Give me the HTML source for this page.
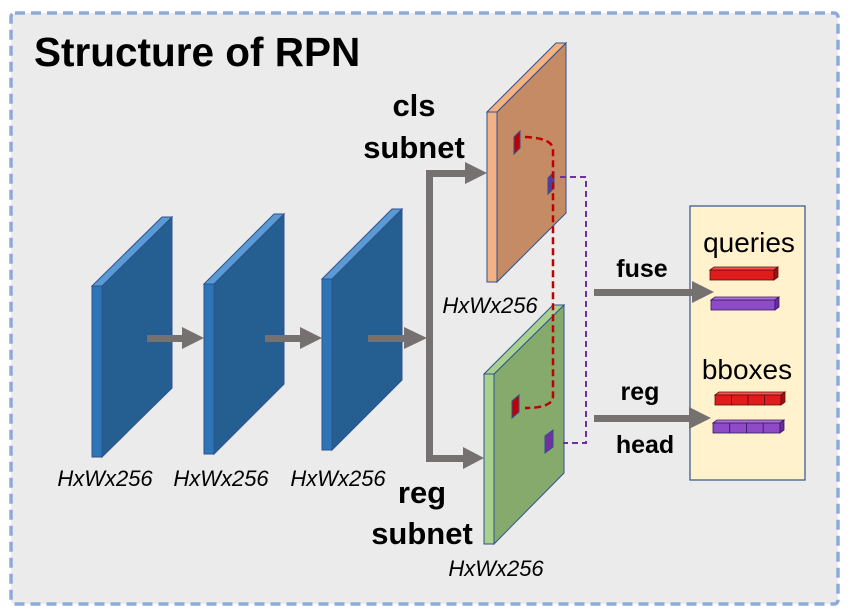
<!DOCTYPE html>
<html><head><style>
html,body{margin:0;padding:0;background:#fff;}
svg{display:block;font-family:"Liberation Sans",Arial,sans-serif;}
</style></head><body>
<svg width="850" height="613" viewBox="0 0 850 613" xmlns="http://www.w3.org/2000/svg">
<rect x="11" y="13" width="827" height="591" rx="4" fill="#ebebeb" stroke="#8eaadb" stroke-width="3.5" stroke-dasharray="10,6"/>
<text x="34" y="66" font-size="40.5" font-weight="bold">Structure of RPN</text>

<g stroke="#2f528f" stroke-width="1">
<polygon points="102,286 172,217 172,388 102,457" fill="#255e91"/>
<polygon points="92,286 102,286 102,457 92,457" fill="#2e75b6"/>
<polygon points="92,286 162,217 172,217 102,286" fill="#5b9bd5"/>
<polygon points="214,284 284,214 284,384 214,454" fill="#255e91"/>
<polygon points="204,284 214,284 214,454 204,454" fill="#2e75b6"/>
<polygon points="204,284 274,214 284,214 214,284" fill="#5b9bd5"/>
<polygon points="332,279 402,209 402,380 332,450" fill="#255e91"/>
<polygon points="322,279 332,279 332,450 322,450" fill="#2e75b6"/>
<polygon points="322,279 392,209 402,209 332,279" fill="#5b9bd5"/>
</g>

<g stroke="#2f528f" stroke-width="1">
<polygon points="497,112 566,43 566,213 497,282" fill="#c48b64"/>
<polygon points="487,112 497,112 497,282 487,282" fill="#f4b183"/>
<polygon points="487,112 556,43 566,43 497,112" fill="#f4b183"/>
<polygon points="514,137 520,131 520,148 514,154" fill="#c00000"/>
<polygon points="548,178 554,172 554,188 548,194" fill="#5b3aa0"/>
</g>
<g stroke="#2f528f" stroke-width="1">
<polygon points="494,374 564,305 564,473 494,544" fill="#86a96c"/>
<polygon points="484,374 494,374 494,544 484,544" fill="#a9d18e"/>
<polygon points="484,374 553,305 564,305 494,374" fill="#a9d18e"/>
<polygon points="512,401 519,395 519,412 512,418" fill="#c00000"/>
<polygon points="545,436 553,430 553,447 545,453" fill="#7030a0"/>
</g>

<path d="M525,137 Q553,138 553,150 L553,396 Q553,408 525,408" fill="none" stroke="#c00000" stroke-width="2.5" stroke-dasharray="7,4"/>
<path d="M560,177 L586,177 L586,443 L563,443" fill="none" stroke="#7030a0" stroke-width="2" stroke-dasharray="6,4"/>

<rect x="690" y="206" width="115" height="274" fill="#fff2cc" stroke="#2f528f" stroke-width="1.2"/>
<text x="749" y="252" font-size="28" text-anchor="middle">queries</text>
<text x="747" y="379" font-size="28" text-anchor="middle">bboxes</text>
<g stroke="#5a1010" stroke-width="0.8">
<polygon points="710,270 714,267 778,267 774,270" fill="#ff5050"/>
<rect x="710" y="270" width="64" height="10" fill="#e01b1b"/>
<polygon points="774,270 778,267 778,277 774,280" fill="#a01010"/>
</g>
<g stroke="#3a1a5a" stroke-width="0.8">
<polygon points="711,300 715,297 779,297 775,300" fill="#b070e0"/>
<rect x="711" y="300" width="64" height="10" fill="#8e4bc8"/>
<polygon points="775,300 779,297 779,307 775,310" fill="#6a2aa0"/>
</g>
<g stroke="#5a1010" stroke-width="0.8">
<polygon points="715,395 719,392 785,392 781,395" fill="#ff5050"/>
<rect x="715" y="395" width="16.5" height="10" fill="#e01b1b"/><rect x="731.5" y="395" width="16.5" height="10" fill="#e01b1b"/><rect x="748" y="395" width="16.5" height="10" fill="#e01b1b"/><rect x="764.5" y="395" width="16.5" height="10" fill="#e01b1b"/>
<polygon points="781,395 785,392 785,402 781,405" fill="#a01010"/>
</g>
<g stroke="#3a1a5a" stroke-width="0.8">
<polygon points="713,423 717,420 784,420 780,423" fill="#b070e0"/>
<rect x="713" y="423" width="16.75" height="10" fill="#8e4bc8"/><rect x="729.75" y="423" width="16.75" height="10" fill="#8e4bc8"/><rect x="746.5" y="423" width="16.75" height="10" fill="#8e4bc8"/><rect x="763.25" y="423" width="16.75" height="10" fill="#8e4bc8"/>
<polygon points="780,423 784,420 784,430 780,433" fill="#6a2aa0"/>
</g>

<g fill="#767171">
<rect x="147" y="335" width="36" height="7"/><polygon points="182,327 204,338 182,349"/>
<rect x="265" y="335" width="36" height="7"/><polygon points="300,327 322,338 300,349"/>
<rect x="368" y="335" width="37" height="7"/><polygon points="404,327 427,338 404,349"/>
<rect x="426" y="170" width="7" height="292"/>
<rect x="426" y="170" width="40" height="7"/><polygon points="465,162 487,173 465,184"/>
<rect x="426" y="455" width="38" height="7"/><polygon points="463,447 484,458 463,469"/>
<rect x="594" y="289" width="100" height="7"/><polygon points="692,281 714,292 692,303"/>
<rect x="594" y="415" width="96" height="7"/><polygon points="689,407 711,418 689,429"/>
</g>

<g font-weight="bold" font-size="31" text-anchor="middle">
<text x="414" y="116">cls</text>
<text x="414" y="158">subnet</text>
<text x="422" y="503">reg</text>
<text x="422" y="544">subnet</text>
</g>
<g font-weight="bold" font-size="25" text-anchor="middle">
<text x="642" y="277">fuse</text>
<text x="640" y="400">reg</text>
<text x="645" y="453">head</text>
</g>
<g font-style="italic" font-size="22" text-anchor="middle">
<text x="105" y="486">HxWx256</text>
<text x="221" y="486">HxWx256</text>
<text x="338" y="486">HxWx256</text>
<text x="490" y="313">HxWx256</text>
<text x="496" y="576">HxWx256</text>
</g>
</svg>
</body></html>
